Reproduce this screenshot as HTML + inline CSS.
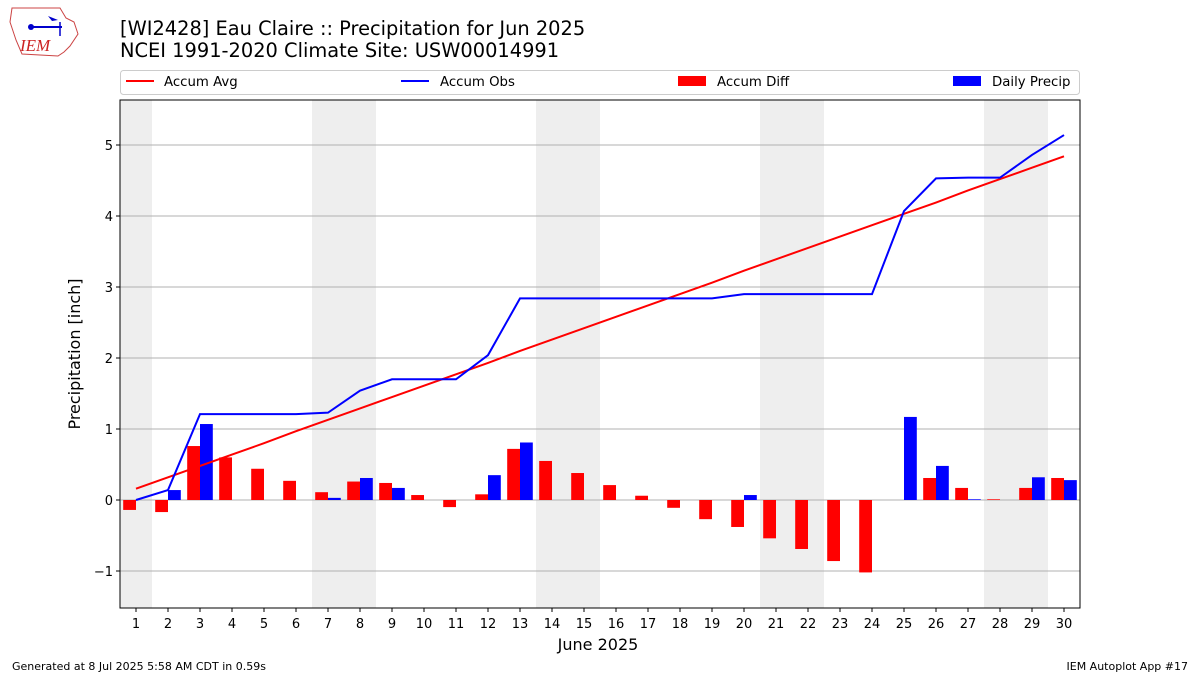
<!DOCTYPE html>
<html><head><meta charset="utf-8"><style>
body{margin:0;background:#fff;font-family:"Liberation Sans","DejaVu Sans",sans-serif}
</style></head><body>
<svg width="1200" height="675" xmlns="http://www.w3.org/2000/svg" font-family="'DejaVu Sans','Liberation Sans',sans-serif">
<g>
<path d="M12,8 L60,8 L66,18 L74,22 L78,34 L70,46 L64,52 L58,56 L22,54 L16,40 L10,22 Z" fill="#fff" stroke="#c44" stroke-width="1"/>
<line x1="30" y1="27" x2="62" y2="27" stroke="#00c" stroke-width="2"/>
<circle cx="31" cy="27" r="3" fill="#00c"/>
<path d="M48,16 L58,20 L52,21 Z" fill="#00c"/>
<line x1="60" y1="22" x2="60" y2="36" stroke="#00c" stroke-width="1.5"/>
<text x="20" y="51" font-family="'Liberation Serif',serif" font-style="italic" font-size="17" fill="#c22">IEM</text>
</g>
<text x="120" y="35" font-size="19.4" fill="#000">[WI2428] Eau Claire :: Precipitation for Jun 2025</text>
<text x="120" y="57" font-size="19.4" fill="#000">NCEI 1991-2020 Climate Site: USW00014991</text>
<g font-size="13.3">
<rect x="120.5" y="70.5" width="959" height="24" rx="3" fill="#fff" stroke="#ccc"/>
<line x1="126" y1="81" x2="154" y2="81" stroke="#f00" stroke-width="2"/>
<text x="164" y="86">Accum Avg</text>
<line x1="401" y1="81" x2="429" y2="81" stroke="#00f" stroke-width="2"/>
<text x="440" y="86">Accum Obs</text>
<rect x="678" y="76" width="28" height="10" fill="#f00"/>
<text x="717" y="86">Accum Diff</text>
<rect x="953" y="76" width="28" height="10" fill="#00f"/>
<text x="992" y="86">Daily Precip</text>
</g>
<g id="plot"></g>
<text x="598" y="650" font-size="16" text-anchor="middle">June 2025</text>
<text transform="translate(80,354) rotate(-90)" font-size="16" text-anchor="middle">Precipitation [inch]</text>
<text x="12" y="670" font-size="11">Generated at 8 Jul 2025 5:58 AM CDT in 0.59s</text>
<text x="1188" y="670" font-size="11" text-anchor="end">IEM Autoplot App #17</text>
</svg>
<script>
const days=[1,2,3,4,5,6,7,8,9,10,11,12,13,14,15,16,17,18,19,20,21,22,23,24,25,26,27,28,29,30];
const dailyPrecip=[0,0.14,1.07,0,0,0,0.03,0.31,0.17,0,0,0.35,0.81,0,0,0,0,0,0,0.07,0,0,0,0,1.17,0.48,0.01,0,0.32,0.28];
const accumObs=[0,0.14,1.21,1.21,1.21,1.21,1.23,1.54,1.7,1.7,1.7,2.04,2.84,2.84,2.84,2.84,2.84,2.84,2.84,2.9,2.9,2.9,2.9,2.9,4.07,4.53,4.54,4.54,4.86,5.14];
const accumAvg=[0.16,0.32,0.48,0.64,0.8,0.97,1.13,1.29,1.45,1.61,1.77,1.93,2.1,2.26,2.42,2.58,2.74,2.9,3.06,3.23,3.39,3.55,3.71,3.87,4.03,4.19,4.36,4.52,4.68,4.84];
const accumDiff=[-0.14,-0.17,0.76,0.6,0.44,0.27,0.11,0.26,0.24,0.07,-0.1,0.08,0.72,0.55,0.38,0.21,0.06,-0.11,-0.27,-0.38,-0.54,-0.69,-0.86,-1.02,0,0.31,0.17,0.01,0.17,0.31];
const weekendDays=[1,7,8,14,15,21,22,28,29];
const yTicks=[-1,0,1,2,3,4,5];
const NS="http://www.w3.org/2000/svg";
const L=120,R=1080,T=100,B=608;
const xs=d=>L+(d-0.5)*(R-L)/30;
const ys=v=>500-v*71;
const g=document.getElementById('plot');
function mk(t,a){const e=document.createElementNS(NS,t);for(const k in a)e.setAttribute(k,a[k]);g.appendChild(e);return e;}
weekendDays.forEach(d=>{const e=mk('rect',{x:xs(d-0.5),y:T,width:xs(d+0.5)-xs(d-0.5),height:B-T,fill:'#eee'});

});
yTicks.forEach(v=>{const e=mk('line',{x1:L,x2:R,y1:ys(v),y2:ys(v),stroke:'#b0b0b0','stroke-width':1});


const m=mk('line',{x1:L-4,x2:L,y1:ys(v),y2:ys(v),stroke:'#000'});


const t=mk('text',{x:L-7,y:ys(v)+5,'font-size':13,'text-anchor':'end'});t.textContent=v<0?'\u2212'+(-v):v;

});
const bw=(R-L)/30*0.4;
days.forEach((d,i)=>{const v=accumDiff[i];
const r=mk('rect',{x:xs(d)-bw,y:Math.min(ys(v),ys(0)),width:bw,height:Math.abs(ys(v)-ys(0)),fill:'#f00'});


const p=dailyPrecip[i];
const b=mk('rect',{x:xs(d),y:ys(p),width:bw,height:ys(0)-ys(p),fill:'#00f'});


const tk=mk('line',{x1:xs(d),x2:xs(d),y1:B,y2:B+4,stroke:'#000'});


const t=mk('text',{x:xs(d),y:B+20,'font-size':13,'text-anchor':'middle'});t.textContent=d;

});
const avg=mk('polyline',{points:days.map((d,i)=>xs(d)+','+ys(accumAvg[i])).join(' '),fill:'none',stroke:'#f00','stroke-width':2});


const obs=mk('polyline',{points:days.map((d,i)=>xs(d)+','+ys(accumObs[i])).join(' '),fill:'none',stroke:'#00f','stroke-width':2});


const fr=mk('rect',{x:L,y:T,width:R-L,height:B-T,fill:'none',stroke:'#000'});


</script>
</body></html>
